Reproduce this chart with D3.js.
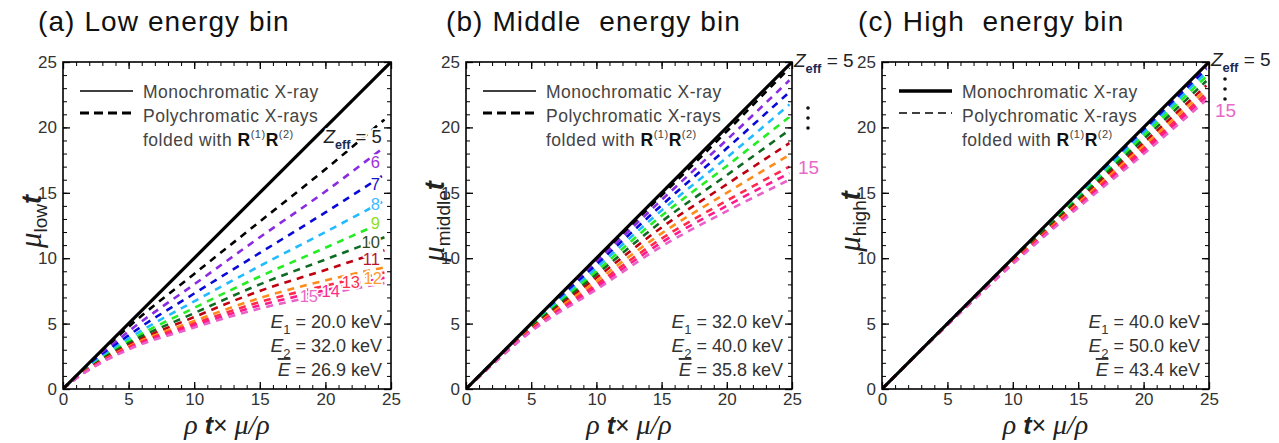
<!DOCTYPE html>
<html>
<head>
<meta charset="utf-8">
<script src="https://cdn.jsdelivr.net/npm/d3@7"></script>
<style>
  body { margin: 0; background: #fff; }
  svg { display: block; }
</style>
</head>
<body>
<div id="root"></div>
<script>
// effective atomic numbers of the polychromatic curves
const zeff = [5, 6, 7, 8, 9, 10, 11, 12, 13, 14, 15];

// rho t x mu/rho sample points
const xLow = [0, 1, 2.5, 5, 10, 15, 20, 24.5];
const xMid = [0, 1, 2.5, 5, 10, 15, 20, 24.8];
const xHigh = [0, 1, 2.5, 5, 10, 15, 20, 24.8];

// mu_bin t, one row per Z_eff (5 .. 15)
const lowValues = [
  [0, 0.98, 2.42, 4.75, 8.8, 12.8, 16.8, 20.6],
  [0, 0.95, 2.3, 4.4, 8.0, 11.6, 15.1, 18.5],
  [0, 0.93, 2.2, 4.1, 7.3, 10.4, 13.5, 16.4],
  [0, 0.9, 2.1, 3.85, 6.7, 9.4, 12.0, 14.4],
  [0, 0.88, 2.0, 3.65, 6.2, 8.6, 10.8, 12.8],
  [0, 0.86, 1.95, 3.5, 5.8, 8.0, 9.9, 11.6],
  [0, 0.85, 1.9, 3.35, 5.5, 7.5, 9.1, 10.6],
  [0, 0.84, 1.85, 3.25, 5.2, 6.95, 8.3, 9.3],
  [0, 0.83, 1.82, 3.17, 5.0, 6.65, 7.9, 8.9],
  [0, 0.82, 1.8, 3.1, 4.85, 6.4, 7.55, 8.5],
  [0, 0.81, 1.77, 3.02, 4.7, 6.15, 7.25, 8.1]
];
const midValues = [
  [0, 1.0, 2.49, 4.97, 9.9, 14.8, 19.7, 24.55],
  [0, 0.99, 2.48, 4.92, 9.72, 14.45, 19.05, 23.6],
  [0, 0.98, 2.46, 4.86, 9.5, 14.05, 18.4, 22.7],
  [0, 0.975, 2.44, 4.8, 9.25, 13.65, 17.7, 21.75],
  [0, 0.97, 2.42, 4.74, 9.0, 13.25, 17.05, 20.8],
  [0, 0.965, 2.4, 4.68, 8.75, 12.8, 16.35, 19.8],
  [0, 0.96, 2.38, 4.62, 8.5, 12.35, 15.65, 18.8],
  [0, 0.955, 2.36, 4.56, 8.25, 11.9, 15.0, 17.9],
  [0, 0.95, 2.34, 4.5, 8.0, 11.5, 14.4, 17.0],
  [0, 0.945, 2.32, 4.45, 7.8, 11.2, 14.0, 16.5],
  [0, 0.94, 2.3, 4.4, 7.6, 10.9, 13.6, 16.0]
];
const highValues = [
  [0, 1, 2.5, 5, 9.99, 14.97, 19.93, 24.75],
  [0, 1, 2.5, 4.99, 9.97, 14.92, 19.85, 24.6],
  [0, 1, 2.5, 4.99, 9.94, 14.86, 19.75, 24.45],
  [0, 1, 2.49, 4.98, 9.9, 14.75, 19.57, 24.2],
  [0, 1, 2.49, 4.97, 9.85, 14.63, 19.35, 23.9],
  [0, 1, 2.49, 4.96, 9.8, 14.5, 19.1, 23.55],
  [0, 1, 2.48, 4.94, 9.73, 14.34, 18.82, 23.2],
  [0, 1, 2.48, 4.93, 9.68, 14.21, 18.6, 22.9],
  [0, 1, 2.48, 4.92, 9.64, 14.08, 18.37, 22.6],
  [0, 0.99, 2.48, 4.91, 9.6, 13.98, 18.18, 22.35],
  [0, 0.99, 2.47, 4.9, 9.55, 13.87, 17.97, 22.1]
];

// monochromatic line
const monoX = [0, 25];
const monoY = [0, 25];

const majorTicks = [0, 5, 10, 15, 20, 25];
const minorTicks = d3.range(0, 26, 1);

const titles = ["(a) Low energy bin", "(b) Middle  energy bin", "(c) High  energy bin"];
const subs = ["low", "middle", "high"];
const e1Text = ["20.0", "32.0", "40.0"];
const e2Text = ["32.0", "40.0", "50.0"];
const eBarText = ["26.9", "35.8", "43.4"];

const lineColors = ["#000000", "#8a2be2", "#0a0ad8", "#22bbff", "#22ee22", "#0f6b22",
                    "#c00010", "#ff8c1a", "#ff2a4a", "#ff1a8c", "#e860c8"];
const labelColors = ["#000000", "#9b30d9", "#1515c8", "#40b8ff", "#8ee020", "#2f4a1e",
                     "#b8142a", "#ff9a30", "#ff3050", "#ff2a8a", "#e868c8"];

const W = 1279, H = 443;
const plotTop = 62, plotBottom = 389;

const panels = [
  { left: 63, right: 391, titleX: 38, xs: xLow, vals: lowValues, legendSolid: 1.5, legendDash: 3 },
  { left: 466, right: 792, titleX: 446, xs: xMid, vals: midValues, legendSolid: 1.5, legendDash: 3 },
  { left: 882, right: 1209, titleX: 858, xs: xHigh, vals: highValues, legendSolid: 3.5, legendDash: 1.5 }
];

const svg = d3.select("#root").append("svg")
  .attr("width", W).attr("height", H)
  .attr("font-family", "'Liberation Sans', Arial, sans-serif");

const halo = (sel) => sel.attr("stroke", "#fff").attr("stroke-width", 3.5)
  .attr("stroke-linejoin", "round").attr("paint-order", "stroke");

panels.forEach((p, pi) => {
  const x = d3.scaleLinear().domain([0, 25]).range([p.left, p.right]);
  const y = d3.scaleLinear().domain([0, 25]).range([plotBottom, plotTop]);
  const g = svg.append("g");

  // title
  g.append("text")
    .attr("x", p.titleX).attr("y", 31)
    .attr("font-size", 28).attr("fill", "#111")
    .attr("letter-spacing", 1.1)
    .style("white-space", "pre")
    .text(titles[pi]);

  // clip for curves
  const clipId = "clip" + pi;
  svg.append("defs").append("clipPath").attr("id", clipId)
    .append("rect").attr("x", p.left).attr("y", plotTop)
    .attr("width", p.right - p.left).attr("height", plotBottom - plotTop);

  const body = g.append("g").attr("clip-path", `url(#${clipId})`);

  // polychromatic curves
  p.vals.forEach((row, zi) => {
    const line = d3.line()
      .x((d, i) => x(p.xs[i]))
      .y(d => y(d))
      .curve(d3.curveMonotoneX);
    body.append("path")
      .attr("d", line(row))
      .attr("fill", "none")
      .attr("stroke", lineColors[zi])
      .attr("stroke-width", 2.6)
      .attr("stroke-dasharray", "7,6");
  });

  // monochromatic line
  body.append("path")
    .attr("d", d3.line().x((d, i) => x(monoX[i])).y(d => y(d))(monoY))
    .attr("fill", "none").attr("stroke", "#000").attr("stroke-width", 3.2);

  // axes: minor and major ticks inward on all sides
  const axes = [
    [d3.axisBottom(x), `translate(0,${plotBottom})`, true],
    [d3.axisTop(x), `translate(0,${plotTop})`, false],
    [d3.axisLeft(y), `translate(${p.left},0)`, true],
    [d3.axisRight(y), `translate(${p.right},0)`, false]
  ];
  axes.forEach(([ax, tr, labels], k) => {
    const minor = g.append("g").attr("transform", tr)
      .call(ax.tickValues(minorTicks).tickSize(-4).tickFormat(""));
    minor.select(".domain").remove();
    minor.selectAll("line").attr("stroke", "#000").attr("stroke-width", 1);
    const major = g.append("g").attr("transform", tr)
      .call(ax.tickValues(majorTicks).tickSize(-7).tickPadding(k === 0 ? 4 : 6)
        .tickFormat(labels ? d3.format("d") : ""));
    major.select(".domain").remove();
    major.selectAll("line").attr("stroke", "#000").attr("stroke-width", 1.3);
    major.selectAll("text")
      .attr("font-size", 17).attr("fill", "#333")
      .attr("font-family", "'Liberation Sans', Arial, sans-serif");
  });

  // frame
  g.append("rect")
    .attr("x", p.left).attr("y", plotTop)
    .attr("width", p.right - p.left).attr("height", plotBottom - plotTop)
    .attr("fill", "none").attr("stroke", "#000").attr("stroke-width", 1.6);

  // legend
  const lx = p.left;
  g.append("line").attr("x1", lx + 17).attr("x2", lx + 70).attr("y1", 91).attr("y2", 91)
    .attr("stroke", "#000").attr("stroke-width", p.legendSolid);
  g.append("line").attr("x1", lx + 17).attr("x2", lx + 70).attr("y1", 113).attr("y2", 113)
    .attr("stroke", "#000").attr("stroke-width", p.legendDash)
    .attr("stroke-dasharray", p.legendDash > 2 ? "9,5" : "8,5");
  const legText = (yy) => g.append("text").attr("x", lx + 80).attr("y", yy)
    .attr("font-size", 17.5).attr("letter-spacing", 0.5).attr("fill", "#444");
  legText(97.5).text("Monochromatic X-ray");
  legText(121.5).text("Polychromatic X-rays");
  const f = legText(145.5);
  f.append("tspan").text("folded with ");
  f.append("tspan").attr("font-weight", "bold").attr("fill", "#111").text("R");
  f.append("tspan").attr("font-size", 11).attr("dy", -8).text("(1)");
  f.append("tspan").attr("font-weight", "bold").attr("fill", "#111").attr("dy", 8).text("R");
  f.append("tspan").attr("font-size", 11).attr("dy", -8).text("(2)");

  // energy text
  const eRows = [
    [e1Text[pi], "1", 328],
    [e2Text[pi], "2", 352],
    [eBarText[pi], null, 376]
  ];
  eRows.forEach(([val, sub, yy]) => {
    const t = g.append("text").attr("x", p.right - 9).attr("y", yy)
      .attr("text-anchor", "end").attr("font-size", 18).attr("fill", "#333");
    const e = t.append("tspan").attr("font-style", "italic").attr("font-size", 19).text("E");
    if (sub) {
      t.append("tspan").attr("font-size", 13).attr("dy", 6).text(sub);
      t.append("tspan").attr("dy", -6).text(" = " + val + " keV");
    } else {
      e.style("text-decoration", "overline");
      t.append("tspan").text(" = " + val + " keV");
    }
  });

  // y label
  const cy = (plotTop + plotBottom) / 2 - 4;
  const yl = g.append("text")
    .attr("transform", `translate(${p.left - 22},${cy}) rotate(-90)`)
    .attr("text-anchor", "middle").attr("fill", "#222");
  yl.append("tspan").attr("font-family", "'Liberation Serif', serif")
    .attr("font-style", "italic").attr("font-size", 31).text("\u03bc");
  yl.append("tspan").attr("font-size", 19).attr("dy", 6).text(subs[pi]);
  yl.append("tspan").attr("font-size", 27).attr("font-weight", "bold")
    .attr("font-style", "italic").attr("dy", -6).text("t");

  // x label
  const xl = g.append("text")
    .attr("x", (p.left + p.right) / 2).attr("y", 434)
    .attr("text-anchor", "middle").attr("fill", "#222");
  xl.append("tspan").attr("font-family", "'Liberation Serif', serif")
    .attr("font-style", "italic").attr("font-size", 28).text("\u03c1 ");
  xl.append("tspan").attr("font-size", 25).attr("font-weight", "bold")
    .attr("font-style", "italic").text("t");
  xl.append("tspan").attr("font-size", 25).text("\u00d7 ");
  xl.append("tspan").attr("font-family", "'Liberation Serif', serif")
    .attr("font-style", "italic").attr("font-size", 28).text("\u03bc/\u03c1");

  // Z_eff labels
  const zLabel = (xx, yy, size) => {
    const t = g.append("text").attr("x", xx).attr("y", yy)
      .attr("font-size", size).attr("fill", "#222");
    t.append("tspan").attr("font-style", "italic").text("Z");
    t.append("tspan").attr("font-size", size * 0.68).attr("fill", "#1a2a55")
      .attr("font-weight", "bold").attr("dy", 6).text("eff");
    t.append("tspan").attr("dy", -6).text(" = 5");
    return t;
  };

  if (pi === 0) {
    halo(zLabel(x(24.3), y(18.8), 18.5).attr("text-anchor", "end"));
    const lab = [
      [1, 24.16, 16.9], [2, 24.16, 15.2], [3, 24.16, 13.7], [4, 24.16, 12.25],
      [5, 24.16, 10.8], [6, 24.16, 9.5], [7, 24.3, 8.05],
      [8, 22.64, 7.72], [9, 21.1, 7.03], [10, 19.44, 6.65]
    ];
    lab.forEach(([zi, lxv, lyv]) => {
      halo(g.append("text").attr("x", x(lxv)).attr("y", y(lyv))
        .attr("text-anchor", "end").attr("font-size", 16.5)
        .attr("fill", labelColors[zi]).text(zeff[zi]));
    });
  } else {
    const zy = pi === 1 ? 67 : 66;
    zLabel(p.right + 2, zy, 19);
    const dotX = p.right + 16;
    const dotY0 = pi === 1 ? 108 : 79;
    [0, 1, 2].forEach(k => {
      g.append("circle").attr("cx", dotX).attr("cy", dotY0 + k * 10)
        .attr("r", 1.8).attr("fill", "#111");
    });
    g.append("text").attr("x", p.right + 6).attr("y", pi === 1 ? 174 : 117)
      .attr("font-size", 19).attr("fill", labelColors[10]).text(zeff[10]);
  }
});
</script>
</body>
</html>
